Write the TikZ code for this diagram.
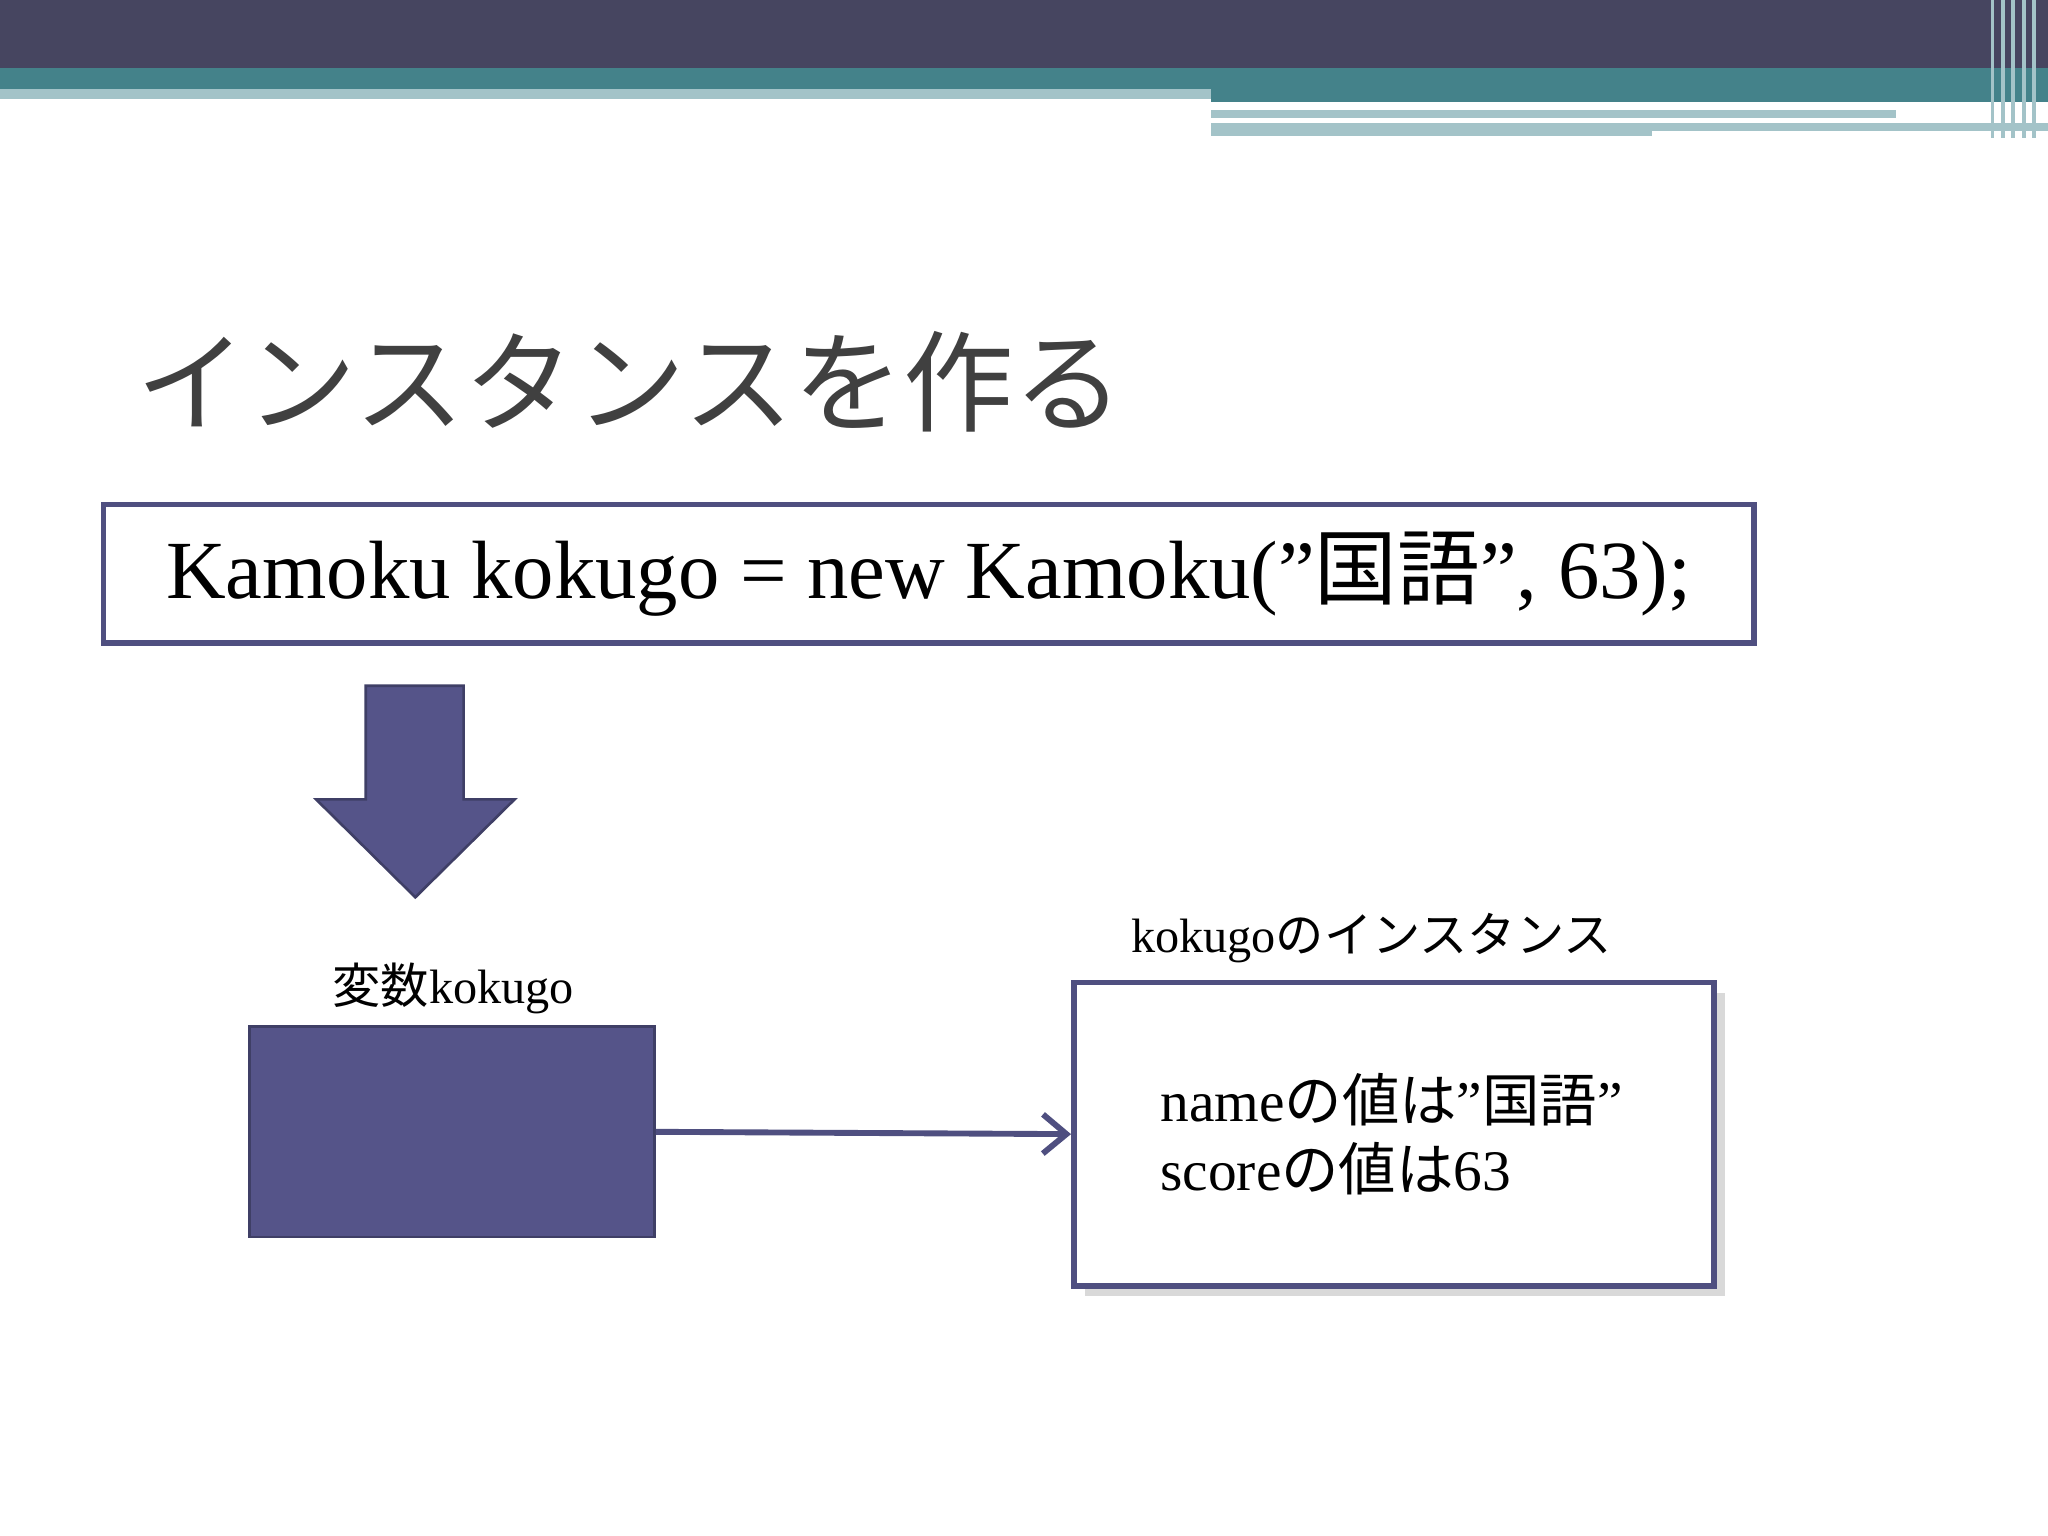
\documentclass[tikz,border=0pt]{standalone}
\usepackage{fontspec}
\setmainfont{Liberation Serif}
\newfontfamily\cjk{Noto Sans CJK JP}
\usetikzlibrary{shadows,arrows.meta}
\definecolor{dk}{HTML}{464560}
\definecolor{tl}{HTML}{44828A}
\definecolor{lt}{HTML}{A3C3C8}
\definecolor{bx}{HTML}{4F4F80}
\definecolor{fl}{HTML}{555489}
\newcommand{\dq}{\char34\relax}
\tikzset{px/.style={x=0.01cm,y=-0.01cm},
 frame/.style={draw=bx,line width=0.045cm,fill=white}}
\begin{document}
\begin{tikzpicture}[px]
\useasboundingbox (0,0) rectangle (1568,1176);
% banner
\fill[dk] (0,0) rectangle (1568,52);
\fill[tl] (0,52) rectangle (1568,68);
\fill[lt] (0,68) rectangle (927,76);
\fill[tl] (927,68) rectangle (1568,78);
\fill[lt] (927,84) rectangle (1452,90);
\fill[lt] (927,94) rectangle (1568,104);
\fill[white] (1265,100) rectangle (1568,106);
\foreach \x in {1524,1532,1540,1548,1556} \fill[lt] (\x,0) rectangle (\x+3,106);
% title
\node[anchor=west,text=black!75,font=\cjk\fontsize{24}{28}\selectfont] (title) at (92,292) {インスタンスを作る};
% code box
\node[frame,minimum width=12.63cm,minimum height=1.06cm,anchor=north west,font=\fontsize{18}{22}\selectfont] (code) at (77,384) {Kamoku kokugo = new Kamoku(\dq{\cjk 国語}\dq, 63);};
% down arrow
\draw[fill=fl,draw=bx!80!black,line width=0.02cm] (280,525) -- (355,525) -- (355,612) -- (394,612) -- (318,687) -- (242,612) -- (280,612) -- cycle;
% variable
\node[fill=fl,draw=bx!80!black,line width=0.02cm,minimum width=3.1cm,minimum height=1.61cm,anchor=north west] (var) at (190,785) {};
\node[font=\fontsize{10.5}{12}\selectfont] (varlab) at (347,757) {{\cjk 変数}kokugo};
% instance
\node[frame,drop shadow={opacity=0.3},minimum width=4.9cm,minimum height=2.32cm,anchor=north west] (inst) at (820,750) {};
\node[font=\fontsize{10.5}{12}\selectfont] (instlab) at (1050,718) {kokugo{\cjk のインスタンス}};
\node[anchor=west,align=left,font=\fontsize{12.5}{15}\selectfont] (insttext) at (876,868) {name{\cjk の値は}\dq{\cjk 国語}\dq\\score{\cjk の値は}63};
\draw[bx,line width=0.045cm,-{Straight Barb[length=0.18cm,width=0.3cm]}] (var.east) -- (inst.west);
\end{tikzpicture}
\end{document}
